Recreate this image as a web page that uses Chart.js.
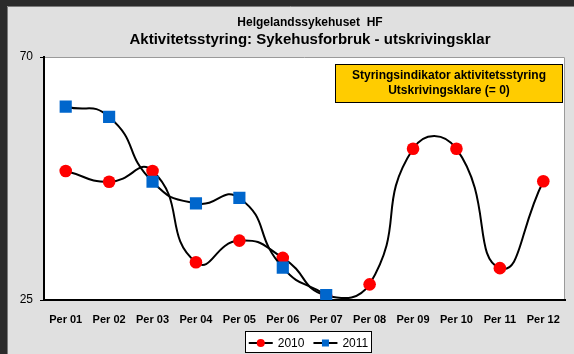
<!DOCTYPE html>
<html>
<head>
<meta charset="utf-8">
<script src="https://cdn.jsdelivr.net/npm/chart.js@4/dist/chart.umd.min.js"></script>
<style>
  html, body { margin: 0; padding: 0; background: #2b2b2b; }
  canvas { display: block; }
</style>
</head>
<body>
<canvas id="c" width="574" height="354"></canvas>
<script>
// Periods on the x axis
const periods = ['Per 01', 'Per 02', 'Per 03', 'Per 04', 'Per 05', 'Per 06',
                 'Per 07', 'Per 08', 'Per 09', 'Per 10', 'Per 11', 'Per 12'];
// Utskrivingsklare per period
const values2010 = [48.9, 46.9, 48.9, 32.0, 36.0, 32.8, 25.8, 27.9, 53.0, 53.0, 30.9, 47.0];
const values2011 = [60.8, 58.9, 46.9, 42.9, 43.9, 31.0, 25.9, null, null, null, null, null];
// Only the ends of the value axis are labelled
const yTicks = [25, 70];
const yMin = 25, yMax = 70;

const titleLine1 = 'Helgelandssykehuset  HF';
const titleLine2 = 'Aktivitetsstyring: Sykehusforbruk - utskrivingsklar';
const noteLines = ['Styringsindikator aktivitetsstyring', 'Utskrivingsklare (= 0)'];

const FONT = '"Liberation Sans", Arial, sans-serif';

// Frame, grey background and white plot area
const framePlugin = {
  id: 'frame',
  beforeDraw(chart) {
    const ctx = chart.ctx, a = chart.chartArea;
    ctx.save();
    ctx.fillStyle = '#2b2b2b';
    ctx.fillRect(0, 0, chart.width, chart.height);
    ctx.fillStyle = '#e0e0e0';
    ctx.fillRect(7, 6, chart.width - 7, chart.height - 6);
    ctx.strokeStyle = '#7a7a7a';
    ctx.lineWidth = 1;
    ctx.beginPath();
    ctx.moveTo(7.5, chart.height);
    ctx.lineTo(7.5, 6.5);
    ctx.lineTo(chart.width, 6.5);
    ctx.stroke();
    ctx.fillStyle = '#ffffff';
    ctx.fillRect(a.left, a.top, a.right - a.left, a.bottom - a.top);
    ctx.strokeStyle = '#9a9a9a';
    ctx.beginPath();
    ctx.moveTo(a.left, a.top + 0.5);
    ctx.lineTo(a.right - 0.5, a.top + 0.5);
    ctx.lineTo(a.right - 0.5, a.bottom);
    ctx.stroke();
    ctx.restore();
  }
};

// Titles, the yellow note box and the legend
const textPlugin = {
  id: 'texts',
  afterDraw(chart) {
    const ctx = chart.ctx, a = chart.chartArea;
    ctx.save();
    ctx.fillStyle = '#000';
    ctx.textAlign = 'center';
    ctx.textBaseline = 'middle';
    ctx.font = 'bold 12px ' + FONT;
    ctx.fillText(titleLine1, 310, 23);
    ctx.font = 'bold 15px ' + FONT;
    ctx.fillText(titleLine2, 310, 39.5);

    // note box
    const bx = 335, by = 64, bw = 228, bh = 39;
    ctx.fillStyle = '#ffcc00';
    ctx.fillRect(bx, by, bw, bh);
    ctx.strokeStyle = '#000';
    ctx.lineWidth = 1;
    ctx.strokeRect(bx + 0.5, by + 0.5, bw - 1, bh - 1);
    ctx.fillStyle = '#000';
    ctx.font = 'bold 12px ' + FONT;
    ctx.fillText(noteLines[0], bx + bw / 2, 75.5);
    ctx.fillText(noteLines[1], bx + bw / 2, 91);

    // legend
    ctx.font = '12px ' + FONT;
    const items = chart.data.datasets.map(ds => ({
      label: ds.label, color: ds.pointBackgroundColor, style: ds.pointStyle,
      w: 24 + 5 + ctx.measureText(ds.label).width
    }));
    const gap = 9;
    const totalW = items.reduce((s, it) => s + it.w, 0) + gap * (items.length - 1);
    const lx = 245, ly = 331, lw = 127, lh = 22;
    ctx.fillStyle = '#fff';
    ctx.fillRect(lx, ly, lw, lh);
    ctx.strokeStyle = '#000';
    ctx.strokeRect(lx + 0.5, ly + 0.5, lw - 1, lh - 1);
    let x = lx + (lw - totalW) / 2;
    const cy = 343;
    items.forEach(it => {
      ctx.strokeStyle = '#000';
      ctx.lineWidth = 2;
      ctx.beginPath();
      ctx.moveTo(x, cy);
      ctx.lineTo(x + 24, cy);
      ctx.stroke();
      ctx.fillStyle = it.color;
      if (it.style === 'rect') {
        ctx.fillRect(x + 12 - 3.5, cy - 3.5, 7, 7);
      } else {
        ctx.beginPath();
        ctx.arc(x + 12, cy, 4, 0, Math.PI * 2);
        ctx.fill();
      }
      ctx.fillStyle = '#000';
      ctx.textAlign = 'left';
      ctx.fillText(it.label, x + 29, cy + 0.5);
      x += it.w + gap;
    });
    ctx.restore();
  }
};

new Chart(document.getElementById('c'), {
  type: 'line',
  data: {
    labels: periods,
    datasets: [
      {
        label: '2010',
        data: values2010,
        borderColor: '#000',
        borderWidth: 2,
        pointStyle: 'circle',
        pointRadius: 6.3,
        pointHoverRadius: 6.3,
        pointBackgroundColor: '#ff0000',
        pointBorderColor: '#ff0000',
        pointBorderWidth: 0,
        tension: 0.55,
        fill: false,
        order: 1
      },
      {
        label: '2011',
        data: values2011,
        borderColor: '#000',
        borderWidth: 2,
        pointStyle: 'rect',
        pointRadius: 8.6,
        pointHoverRadius: 8.6,
        pointBackgroundColor: '#0066cc',
        pointBorderColor: '#0066cc',
        pointBorderWidth: 0,
        tension: 0.55,
        fill: false,
        order: 0
      }
    ]
  },
  options: {
    responsive: false,
    animation: false,
    events: [],
    layout: { padding: { left: 7, top: 57, right: 9, bottom: 0 } },
    plugins: {
      legend: { display: false },
      title: { display: false },
      tooltip: { enabled: false }
    },
    scales: {
      x: {
        offset: true,
        grid: { display: false, drawTicks: false },
        border: { display: true, color: '#000', width: 2 },
        ticks: {
          color: '#000',
          padding: 13,
          maxRotation: 0,
          autoSkip: false,
          font: { family: FONT, size: 11, weight: 'bold' }
        },
        afterFit(scale) { scale.height = 54; }
      },
      y: {
        min: yMin,
        max: yMax,
        afterBuildTicks(scale) { scale.ticks = yTicks.map(v => ({ value: v })); },
        grid: { drawOnChartArea: false, drawTicks: true, tickLength: 4, color: '#000' },
        border: { display: true, color: '#000', width: 2 },
        ticks: {
          color: '#000',
          padding: 7,
          font: { family: FONT, size: 12 }
        },
        afterFit(scale) { scale.width = 37; }
      }
    }
  },
  plugins: [framePlugin, textPlugin]
});
</script>
</body>
</html>
